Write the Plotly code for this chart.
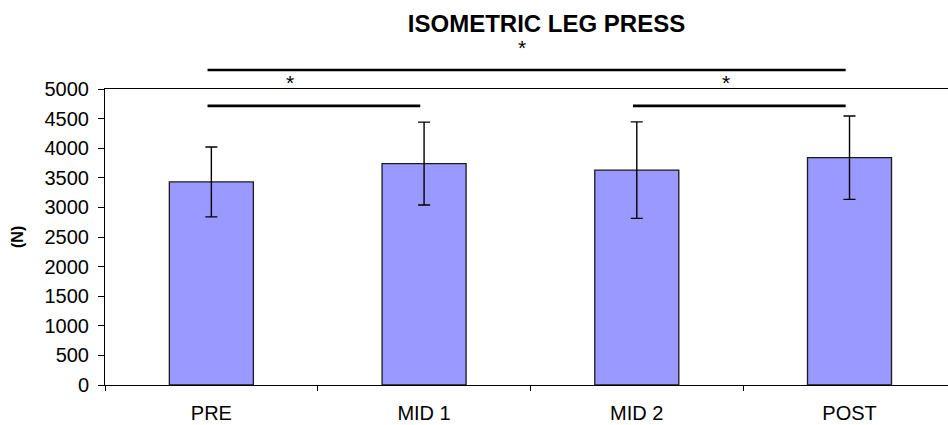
import plotly.graph_objects as go

# Isometric leg press force (N) across the four test sessions
categories = ["PRE", "MID 1", "MID 2", "POST"]
means = [3430, 3740, 3630, 3840]
sds = [590, 700, 815, 705]
y_ticks = [0, 500, 1000, 1500, 2000, 2500, 3000, 3500, 4000, 4500, 5000]

# Significant pairwise differences: (from, to, bracket height in N, star x, star height in N)
sig_from = [0, 0, 2]
sig_to = [3, 1, 3]
sig_level = [5320, 4715, 4715]
star_x = [1.46, 0.37, 2.42]
star_y = [5700, 5115, 5115]

Y_MAX = 5000
X_RANGE = [-0.5, 3.463]
FONT = "Liberation Sans, Arial, sans-serif"


def px(xv):
    # category position -> paper x
    return (xv - X_RANGE[0]) / (X_RANGE[1] - X_RANGE[0])


def py(yv):
    # value -> paper y
    return yv / Y_MAX


fig = go.Figure()
fig.add_trace(go.Bar(
    x=categories,
    y=means,
    width=0.395,
    marker=dict(color="#9999FF", line=dict(color="#1a1a1a", width=1.3)),
    error_y=dict(type="data", array=sds, visible=True, color="black",
                 thickness=1.4, width=6),
    showlegend=False,
))

shapes = []
for a, b, lvl in zip(sig_from, sig_to, sig_level):
    shapes.append(dict(type="line", xref="paper", yref="paper",
                       x0=px(a - 0.018), x1=px(b - 0.018),
                       y0=py(lvl), y1=py(lvl),
                       line=dict(color="black", width=2.6)))

annotations = []
for sx, sy in zip(star_x, star_y):
    annotations.append(dict(text="*", xref="paper", yref="paper",
                            x=px(sx), y=py(sy), showarrow=False,
                            xanchor="center", yanchor="middle",
                            font=dict(family=FONT, size=21, color="black")))
annotations.append(dict(text="<b>(N)</b>", xref="paper", yref="paper",
                        x=-0.1044, y=0.5, textangle=-90, showarrow=False,
                        xanchor="center", yanchor="middle",
                        font=dict(family=FONT, size=16, color="black")))

fig.update_layout(
    width=948, height=425,
    margin=dict(l=105, r=0, t=89, b=40),
    paper_bgcolor="white", plot_bgcolor="white",
    title=dict(text="<b>ISOMETRIC LEG PRESS</b>", x=546.5 / 948, xref="container",
               xanchor="center", y=1 - 24 / 425, yref="container", yanchor="middle",
               font=dict(family=FONT, size=24, color="black")),
    shapes=shapes,
    annotations=annotations,
    xaxis=dict(range=X_RANGE, showline=True, linecolor="black", linewidth=1,
               mirror=True, ticks="outside", tickson="boundaries", ticklen=5,
               tickcolor="black", showgrid=False, zeroline=False,
               ticklabelstandoff=10,
               tickfont=dict(family=FONT, size=20, color="black")),
    yaxis=dict(range=[0, Y_MAX], tickvals=y_ticks, showline=True, linecolor="black",
               linewidth=1, ticks="outside", ticklen=6, tickcolor="black",
               showgrid=False, zeroline=False, ticklabelstandoff=5,
               tickfont=dict(family=FONT, size=20, color="black")),
)

fig.write_html("out.html")
